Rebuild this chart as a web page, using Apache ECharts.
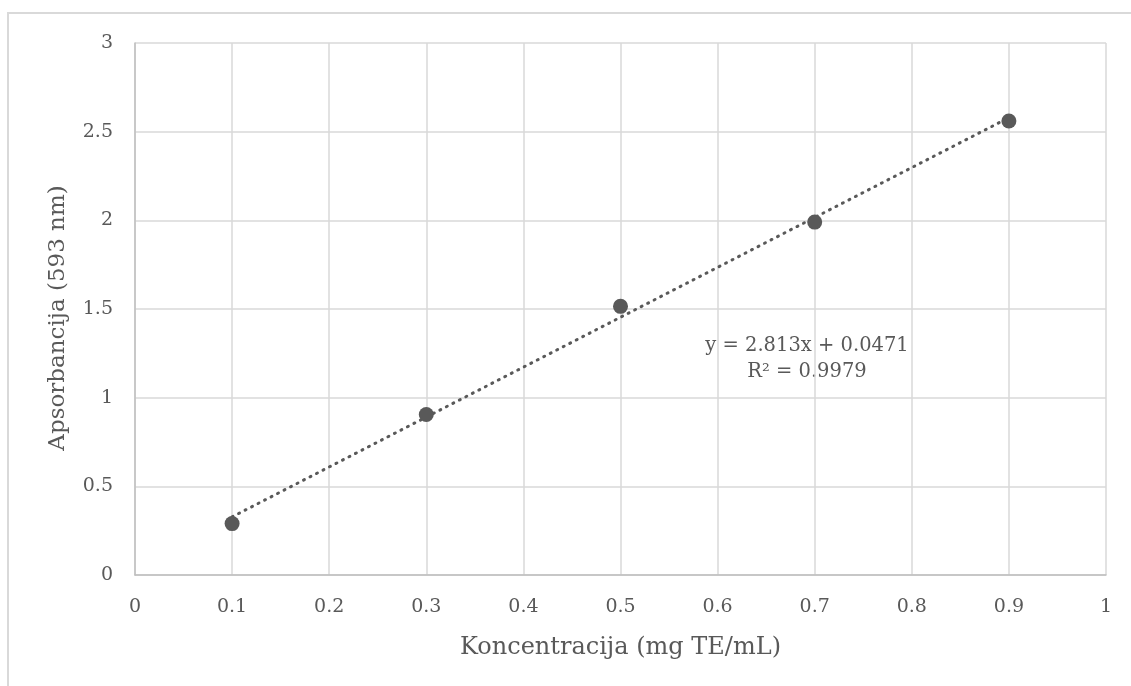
<!DOCTYPE html>
<html>
<head>
<meta charset="utf-8">
<script src="https://cdn.jsdelivr.net/npm/echarts@6/dist/echarts.min.js"></script>
<style>html,body{margin:0;padding:0;background:#fff;}#c{width:1131px;height:686px;}</style>
</head>
<body>
<div id="c"></div>
<script>
const concentrations = [0.1, 0.3, 0.5, 0.7, 0.9];
const absorbances = [0.29, 0.905, 1.515, 1.99, 2.56];
const trendX = [0.1, 0.9];
const trendY = [0.328, 2.579];
const equationText = 'y = 2.813x + 0.0471';
const r2Text = 'R² = 0.9979';
const xTitle = 'Koncentracija (mg TE/mL)';
const yTitle = 'Apsorbancija (593 nm)';

const FONT = 'DejaVu Serif';
const TXT = '#595959';
const chart = echarts.init(document.getElementById('c'));
chart.setOption({
  animation: false,
  grid: {left: 135, top: 43, right: 25, bottom: 111},
  xAxis: {
    type: 'value', min: 0, max: 1, interval: 0.1,
    name: xTitle, nameLocation: 'middle', nameGap: 61,
    nameTextStyle: {fontFamily: FONT, fontSize: 24, color: TXT},
    axisLine: {show: true, lineStyle: {color: '#bfbfbf', width: 1.5}},
    axisTick: {show: false},
    axisLabel: {fontFamily: FONT, fontSize: 19, color: TXT, margin: 23},
    splitLine: {show: true, lineStyle: {color: '#d9d9d9', width: 1.5}}
  },
  yAxis: {
    type: 'value', min: 0, max: 3, interval: 0.5,
    name: yTitle, nameLocation: 'middle', nameGap: 65,
    nameTextStyle: {fontFamily: FONT, fontSize: 23, color: TXT, padding: [0, 18, 0, 0]},
    axisLine: {show: true, lineStyle: {color: '#bfbfbf', width: 1.5}},
    axisTick: {show: false},
    axisLabel: {fontFamily: FONT, fontSize: 19, color: TXT, margin: 22},
    splitLine: {show: true, lineStyle: {color: '#d9d9d9', width: 1.5}}
  },
  series: [
    {
      type: 'line',
      data: trendX.map((x, i) => [x, trendY[i]]),
      showSymbol: false,
      lineStyle: {color: '#595959', width: 3, type: [1, 6.3], cap: 'round'},
      z: 2
    },
    {
      type: 'scatter',
      data: concentrations.map((x, i) => [x, absorbances[i]]),
      symbol: 'circle', symbolSize: 15,
      itemStyle: {color: '#595959', opacity: 1},
      z: 3
    }
  ],
  graphic: [
    {type: 'rect', shape: {x: 8, y: 13, width: 1200, height: 800},
     style: {fill: 'none', stroke: '#d9d9d9', lineWidth: 2}, silent: true},
    {type: 'text', x: 807, y: 333,
     style: {text: equationText + '\n' + r2Text, fontFamily: FONT, fontSize: 19.5, fill: TXT, lineHeight: 26, align: 'center', textAlign: 'center'}}
  ]
});
</script>
</body>
</html>
